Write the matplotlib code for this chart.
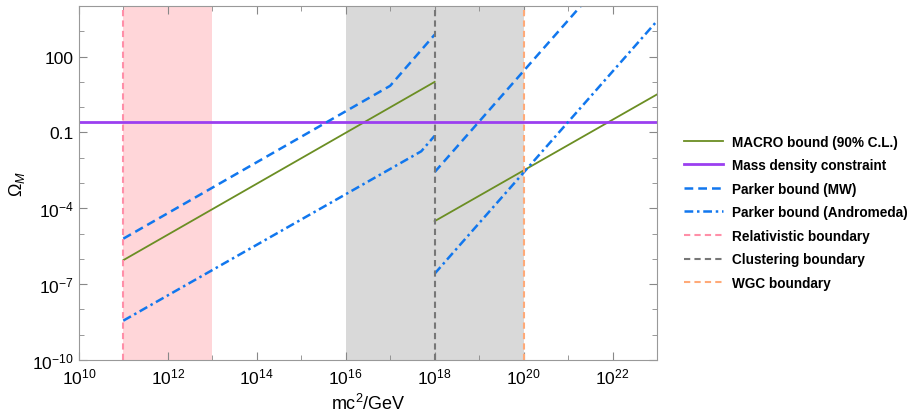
import matplotlib
matplotlib.use("Agg")
import matplotlib.pyplot as plt
from matplotlib.ticker import FixedLocator, NullFormatter

plt.rcParams['font.family'] = ['Liberation Sans', 'DejaVu Sans']
plt.rcParams['mathtext.fontset'] = 'custom'
plt.rcParams['mathtext.rm'] = 'Liberation Sans'
plt.rcParams['mathtext.it'] = 'Liberation Sans:italic'
plt.rcParams['mathtext.bf'] = 'Liberation Sans:bold'

# MACRO bound (two branches)
macro_x1 = [1e11, 1e18]
macro_y1 = [8.9e-7, 10.0]
macro_x2 = [1e18, 1e23]
macro_y2 = [3.1e-5, 3.2]

# mass density constraint
omega_m = 0.25

# Parker bound (Milky Way)
mw_x1 = [1e11, 1e17, 1e18]
mw_y1 = [6.3e-6, 7.0, 740.0]
mw_x2 = [1e18, 1e23]
mw_y2 = [2.7e-3, 2.7e7]

# Parker bound (Andromeda)
and_x1 = [1e11, 5e17, 1e18]
and_y1 = [3.6e-9, 0.018, 0.074]
and_x2 = [1e18, 1e23]
and_y2 = [2.6e-7, 2570.0]

# boundaries / shaded ranges
relativistic_m = 1e11
clustering_m = 1e18
wgc_m = 1e20
pink_range = [1e11, 1e13]
gray_range = [1e16, 1e20]

x_major = [1e10, 1e12, 1e14, 1e16, 1e18, 1e20, 1e22]
x_labels = ['$10^{10}$', '$10^{12}$', '$10^{14}$', '$10^{16}$', '$10^{18}$', '$10^{20}$', '$10^{22}$']
y_major = [1e-10, 1e-7, 1e-4, 0.1, 100]
y_labels = ['$10^{-10}$', '$10^{-7}$', '$10^{-4}$', '0.1', '100']

fig = plt.figure(figsize=(9.17, 4.14), dpi=100)
ax = fig.add_axes([0.086, 0.128, 0.6305, 0.855])

ax.axvspan(*pink_range, color='#ffd6d9', lw=0, zorder=0)
ax.axvspan(*gray_range, color='#d9d9d9', lw=0, zorder=0)

green = '#6b8e23'
blue = '#1177ee'
ax.plot(macro_x1, macro_y1, color=green, lw=1.3, label='MACRO bound (90% C.L.)')
ax.plot(macro_x2, macro_y2, color=green, lw=1.3)
ax.axhline(omega_m, color='#9b3ff0', lw=2.0, label='Mass density constraint')
ax.plot(mw_x1, mw_y1, color=blue, lw=1.8, ls=(0, (3.5, 2)), label='Parker bound (MW)')
ax.plot(mw_x2, mw_y2, color=blue, lw=1.8, ls=(0, (3.5, 2)))
ax.plot(and_x1, and_y1, color=blue, lw=1.8, ls=(0, (3.5, 1.5, 1, 1.5)), label='Parker bound (Andromeda)')
ax.plot(and_x2, and_y2, color=blue, lw=1.8, ls=(0, (3.5, 1.5, 1, 1.5)))
ax.axvline(relativistic_m, color='#ff8fa8', lw=1.5, ls=(0, (3, 2)), label='Relativistic boundary')
ax.axvline(clustering_m, color='#777777', lw=1.5, ls=(0, (3, 2)), label='Clustering boundary')
ax.axvline(wgc_m, color='#ffaa78', lw=1.5, ls=(0, (3, 2)), label='WGC boundary')

ax.set_xscale('log')
ax.set_yscale('log')
ax.set_xlim(1e10, 1e23)
ax.set_ylim(1e-10, 1e4)

ax.xaxis.set_major_locator(FixedLocator(x_major))
ax.set_xticklabels(x_labels)
ax.xaxis.set_minor_locator(FixedLocator([10.0 ** k for k in range(11, 24, 2)]))
ax.xaxis.set_minor_formatter(NullFormatter())
ax.yaxis.set_major_locator(FixedLocator(y_major))
ax.set_yticklabels(y_labels)
ax.yaxis.set_minor_locator(FixedLocator([10.0 ** k for k in range(-10, 5)]))
ax.yaxis.set_minor_formatter(NullFormatter())

ax.tick_params(which='both', direction='in', top=True, right=True, color='#888888', labelsize=12.5)
ax.tick_params(which='major', length=6)
ax.tick_params(which='minor', length=3.5)
ax.tick_params(axis='x', pad=5)
for s in ax.spines.values():
    s.set_color('#999999')

ax.set_xlabel('mc$^2$/GeV', fontsize=13)
ax.set_ylabel('$\\Omega_M$', fontsize=13)

leg = fig.legend(loc='center left', bbox_to_anchor=(0.733, 0.485), frameon=False,
                 prop={'size': 9.8, 'weight': 'bold'}, handlelength=2.8,
                 handletextpad=0.7, labelspacing=0.7)

fig.savefig('out.png', dpi=100)
